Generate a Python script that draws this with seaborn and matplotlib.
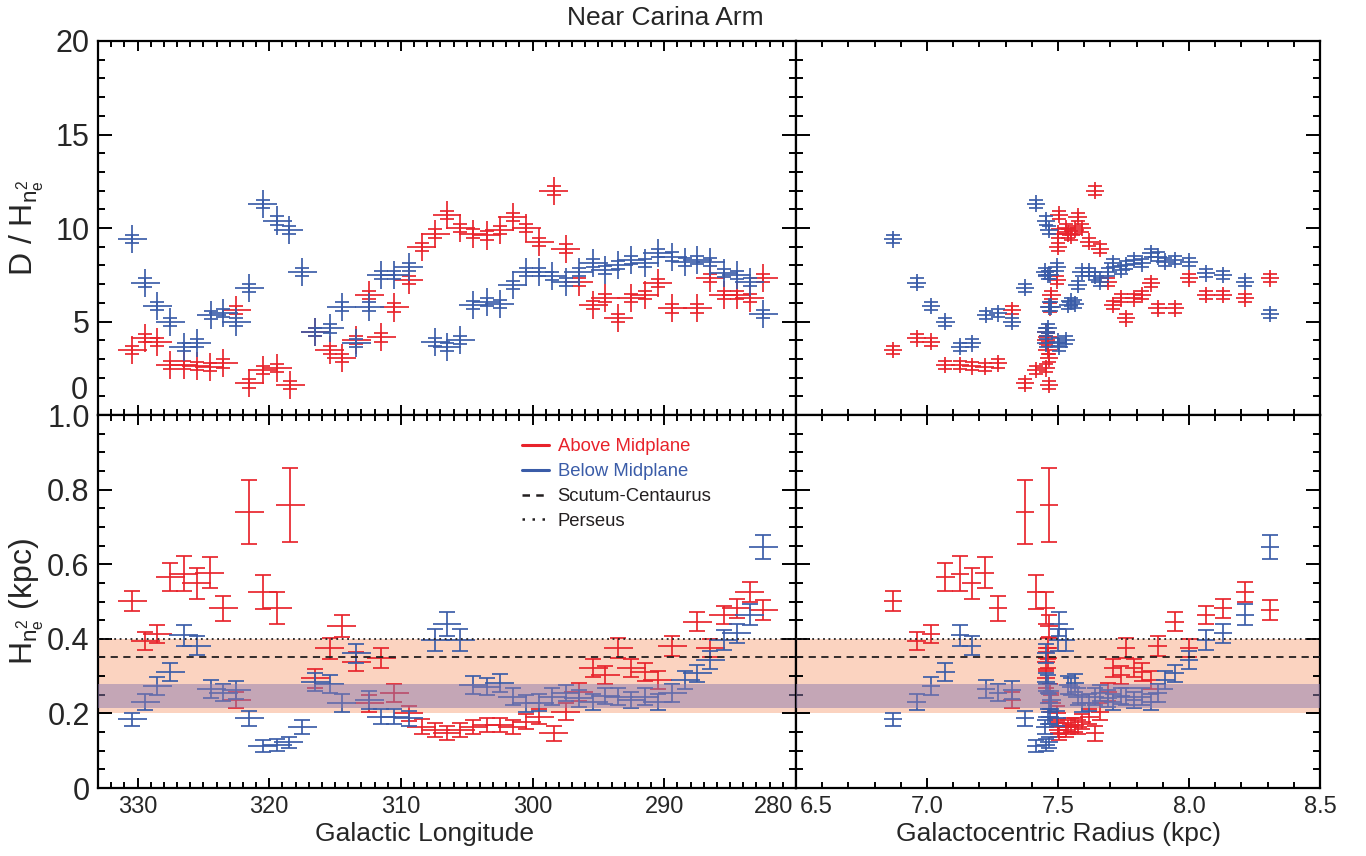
import numpy as np
import pandas as pd
import matplotlib
matplotlib.use("Agg")
import matplotlib.pyplot as plt
from matplotlib.ticker import MultipleLocator
from matplotlib.lines import Line2D
from matplotlib.transforms import ScaledTranslation
import seaborn as sns

# ---- values ----
red_lon = [330.4, 329.4, 328.5, 327.5, 326.5, 325.5, 324.5, 323.5, 322.5, 321.5, 320.5, 319.4, 318.4,
           316.5, 315.4, 314.5, 313.4, 312.4, 311.5, 310.5, 309.4, 308.4, 307.4, 306.5, 305.5, 304.5,
           303.5, 302.5, 301.5, 300.5, 299.5, 298.4, 297.5, 296.5, 295.4, 294.5, 293.5, 292.5, 291.5,
           290.5, 289.4, 287.5, 286.5, 285.5, 284.5, 283.5, 282.5]
red_rgal = [6.87, 6.96, 7.015, 7.07, 7.125, 7.17, 7.22, 7.27, 7.325, 7.375, 7.415, 7.455, 7.465,
            7.455, 7.46, 7.465, 7.455, 7.475, 7.46, 7.47, 7.495, 7.50, 7.50, 7.505, 7.53, 7.54,
            7.55, 7.565, 7.575, 7.59, 7.62, 7.64, 7.66, 7.69, 7.71, 7.74, 7.76, 7.79, 7.82,
            7.855, 7.88, 7.945, 8.0, 8.065, 8.13, 8.215, 8.31]
red_dh = [3.48, 4.10, 3.92, 2.67, 2.67, 2.60, 2.58, 2.76, 5.61, 1.69, 2.41, 2.50, 1.60,
          4.45, 3.48, 3.03, 4.00, 6.40, 4.15, 5.75, 7.20, 9.00, 9.70, 10.7, 10.0, 9.70,
          9.60, 9.90, 10.6, 10.0, 9.27, 12.0, 8.90, 7.13, 5.88, 6.24, 5.17, 6.24, 6.42,
          7.04, 5.70, 5.70, 7.31, 6.42, 6.42, 6.24, 7.31]
red_h = [0.501, 0.395, 0.412, 0.565, 0.575, 0.549, 0.577, 0.482, 0.236, 0.739, 0.525, 0.483, 0.759,
         0.294, 0.375, 0.434, 0.339, 0.227, 0.348, 0.254, 0.200, 0.164, 0.155, 0.147, 0.155, 0.164,
         0.169, 0.169, 0.164, 0.178, 0.191, 0.147, 0.205, 0.258, 0.321, 0.303, 0.375, 0.321, 0.312,
         0.290, 0.381, 0.446, 0.375, 0.464, 0.482, 0.526, 0.477]
red_h_err = [0.026, 0.024, 0.024, 0.038, 0.046, 0.042, 0.042, 0.034, 0.022, 0.086, 0.046, 0.042, 0.100,
             0.026, 0.028, 0.030, 0.026, 0.022, 0.026, 0.024, 0.020, 0.020, 0.018, 0.018, 0.018, 0.018,
             0.018, 0.018, 0.018, 0.020, 0.020, 0.020, 0.022, 0.024, 0.024, 0.024, 0.026, 0.024, 0.024,
             0.024, 0.026, 0.025, 0.024, 0.025, 0.025, 0.027, 0.026]

blue_lon = [330.4, 329.4, 328.5, 327.5, 326.5, 325.5, 324.4, 323.5, 322.5, 321.5, 320.5, 319.4, 318.5,
            317.5, 316.5, 315.4, 314.5, 313.4, 312.4, 311.5, 310.5, 309.4, 307.4, 306.5, 305.5, 304.5,
            303.5, 302.5, 301.5, 300.5, 299.5, 298.5, 297.5, 296.5, 295.4, 294.5, 293.5, 292.5, 291.5,
            290.5, 289.4, 288.4, 287.5, 286.5, 285.5, 284.5, 283.5, 282.5]
blue_rgal = [6.87, 6.96, 7.015, 7.07, 7.125, 7.17, 7.225, 7.27, 7.325, 7.375, 7.415, 7.455, 7.465,
             7.45, 7.455, 7.46, 7.465, 7.455, 7.475, 7.46, 7.47, 7.495, 7.50, 7.505, 7.53, 7.54,
             7.55, 7.565, 7.575, 7.59, 7.62, 7.64, 7.66, 7.69, 7.71, 7.74, 7.76, 7.79, 7.82,
             7.855, 7.88, 7.91, 7.945, 8.0, 8.065, 8.13, 8.215, 8.31]
blue_dh = [9.40, 7.08, 5.83, 4.99, 3.65, 3.83, 5.35, 5.44, 4.99, 6.81, 11.3, 10.4, 9.90,
           7.66, 4.45, 4.63, 5.80, 3.83, 5.80, 7.49, 7.49, 7.93, 3.92, 3.65, 4.01, 5.88,
           6.06, 5.94, 6.95, 7.66, 7.66, 7.43, 7.13, 7.66, 8.11, 7.75, 8.02, 8.29, 8.11,
           8.65, 8.47, 8.20, 8.29, 8.20, 7.58, 7.49, 7.13, 5.40]
blue_h = [0.184, 0.231, 0.274, 0.310, 0.410, 0.382, 0.265, 0.256, 0.263, 0.187, 0.113, 0.115, 0.122,
          0.164, 0.285, 0.280, 0.227, 0.361, 0.236, 0.191, 0.191, 0.187, 0.397, 0.440, 0.397, 0.276,
          0.272, 0.281, 0.245, 0.227, 0.229, 0.245, 0.254, 0.240, 0.231, 0.247, 0.245, 0.236, 0.245,
          0.231, 0.254, 0.290, 0.307, 0.343, 0.397, 0.415, 0.464, 0.647]
blue_h_err = [0.018, 0.022, 0.024, 0.024, 0.028, 0.026, 0.024, 0.022, 0.024, 0.020, 0.016, 0.016, 0.016,
              0.018, 0.024, 0.024, 0.024, 0.026, 0.024, 0.020, 0.020, 0.020, 0.030, 0.032, 0.030, 0.024,
              0.024, 0.024, 0.022, 0.022, 0.022, 0.022, 0.022, 0.022, 0.022, 0.022, 0.022, 0.022, 0.022,
              0.022, 0.024, 0.024, 0.024, 0.024, 0.026, 0.026, 0.028, 0.032]

lon_err = 1.1        # deg
rgal_err = 0.035     # kpc
dh_err_lon = 0.75    # full bar, upper left
dh_err_rgal = 0.45   # full bar, upper right
dh_err_cap = 0.22    # where the short caps sit in the upper panels

outer_band = (0.20, 0.40)
inner_band = (0.215, 0.28)
scutum_h = 0.35
perseus_h = 0.40

red = '#E8232B'
blue = '#3A5CA8'
dark = '#231F20'

red_df = pd.DataFrame({'lon': red_lon, 'rgal': red_rgal, 'dh': red_dh, 'h': red_h, 'h_err': red_h_err})
blue_df = pd.DataFrame({'lon': blue_lon, 'rgal': blue_rgal, 'dh': blue_dh, 'h': blue_h, 'h_err': blue_h_err})

sns.set_theme(style="ticks")
plt.rcParams['font.family'] = ['Liberation Sans', 'DejaVu Sans']
plt.rcParams['mathtext.fontset'] = 'custom'
plt.rcParams['mathtext.rm'] = 'Liberation Sans'
plt.rcParams['mathtext.it'] = 'Liberation Sans'
plt.rcParams['axes.linewidth'] = 1.6
plt.rcParams['axes.edgecolor'] = 'black'

fig = plt.figure(figsize=(13.66, 8.56), dpi=100)
W, H = 1366, 856
lx, lw = 98 / W, 698 / W
rx, rw = 796 / W, 524 / W
tb, th = 1 - 415 / H, 374 / H
bb, bh = 1 - 788 / H, 373 / H
ax_tl = fig.add_axes([lx, tb, lw, th])
ax_tr = fig.add_axes([rx, tb, rw, th])
ax_bl = fig.add_axes([lx, bb, lw, bh])
ax_br = fig.add_axes([rx, bb, rw, bh])

LW = 1.4
ALPHA = 0.88


def draw_top(ax, df, xcol, xerr, yerr, color):
    # long vertical bar without caps, short capped bar, horizontal bar
    ax.errorbar(df[xcol], df['dh'], yerr=yerr, fmt='none', ecolor=color, elinewidth=LW,
                capsize=0, alpha=ALPHA, zorder=3)
    ax.errorbar(df[xcol], df['dh'], yerr=dh_err_cap, fmt='none', ecolor=color, elinewidth=LW,
                capsize=4.8, capthick=LW, alpha=ALPHA, zorder=3)
    ax.errorbar(df[xcol], df['dh'], xerr=xerr, fmt='none', ecolor=color, elinewidth=LW,
                capsize=0, alpha=ALPHA, zorder=3)


def draw_bottom(ax, df, xcol, xerr, color):
    ax.errorbar(df[xcol], df['h'], yerr=df['h_err'], fmt='none', ecolor=color, elinewidth=LW,
                capsize=5.5, capthick=LW, alpha=ALPHA, zorder=3)
    ax.errorbar(df[xcol], df['h'], xerr=xerr, fmt='none', ecolor=color, elinewidth=LW,
                capsize=0, alpha=ALPHA, zorder=3)


for df, c in [(red_df, red), (blue_df, blue)]:
    draw_top(ax_tl, df, 'lon', lon_err, dh_err_lon, c)
    draw_top(ax_tr, df, 'rgal', rgal_err, dh_err_rgal, c)
    draw_bottom(ax_bl, df, 'lon', lon_err, c)
    draw_bottom(ax_br, df, 'rgal', rgal_err, c)

# spiral arm scale-height bands
for ax in (ax_bl, ax_br):
    ax.axhspan(*outer_band, color='#FBD3C0', lw=0, zorder=0)
    ax.axhspan(*inner_band, color='#8E7BAE', alpha=0.5, lw=0, zorder=4)
    ax.axhline(scutum_h, color=dark, ls=(0, (4, 3)), lw=1.3, zorder=5)
    ax.axhline(perseus_h, color=dark, ls=(0, (1, 2)), lw=1.3, zorder=5)

for ax in (ax_tl, ax_bl):
    ax.set_xlim(333, 280)
    ax.set_xticks([330, 320, 310, 300, 290, 280])
    ax.xaxis.set_minor_locator(MultipleLocator(1))
for ax in (ax_tr, ax_br):
    ax.set_xlim(6.5, 8.5)
    ax.set_xticks([6.5, 7.0, 7.5, 8.0, 8.5])
    ax.xaxis.set_minor_locator(MultipleLocator(0.1))
for ax in (ax_tl, ax_tr):
    ax.set_ylim(0, 20)
    ax.set_yticks([0, 5, 10, 15, 20])
    ax.yaxis.set_minor_locator(MultipleLocator(1))
for ax in (ax_bl, ax_br):
    ax.set_ylim(0, 1.0)
    ax.set_yticks([0, 0.2, 0.4, 0.6, 0.8, 1.0])
    ax.set_yticklabels(['0', '0.2', '0.4', '0.6', '0.8', '1.0'])
    ax.yaxis.set_minor_locator(MultipleLocator(0.05))

for ax in (ax_tl, ax_tr, ax_bl, ax_br):
    ax.tick_params(which='both', direction='in', top=True, right=True, bottom=True, left=True,
                   color='black', width=1.4)
    ax.tick_params(axis='y', which='major', length=10, labelsize=22, pad=6)
    ax.tick_params(axis='y', which='minor', length=5)
    ax.tick_params(axis='x', which='major', length=7, labelsize=17, pad=6)
    ax.tick_params(axis='x', which='minor', length=4)
    for s in ax.spines.values():
        s.set_linewidth(1.6)
        s.set_color('black')

ax_tl.tick_params(labelbottom=False)
ax_tr.tick_params(labelbottom=False, labelleft=False)
ax_br.tick_params(labelleft=False)

# the "0" of the upper panel sits a little above its tick in the original
ax_tl.set_yticklabels(['', '5', '10', '15', '20'])
ax_tl.text(-0.014, 1.3, '0', transform=ax_tl.get_yaxis_transform(), ha='right', va='center',
           fontsize=22)

ax_tl.set_ylabel(r'D / H$_{n_e^{2}}$', fontsize=23)
ax_bl.set_ylabel(r'H$_{n_e^{2}}$ (kpc)', fontsize=23)
ax_tl.yaxis.set_label_coords(-0.075, 0.5)
ax_bl.yaxis.set_label_coords(-0.075, 0.5)

ax_bl.set_xlabel('Galactic Longitude', fontsize=19)
ax_br.set_xlabel('Galactocentric Radius (kpc)', fontsize=19)
ax_bl.xaxis.set_label_coords(0.468, -0.092)
ax_br.xaxis.set_label_coords(0.5, -0.092)

fig.text(665 / W, 1 - 18 / H, 'Near Carina Arm', ha='center', va='center', fontsize=19)

handles = [Line2D([], [], color=red, lw=2.2),
           Line2D([], [], color=blue, lw=2.2),
           Line2D([], [], color=dark, lw=1.8, ls=(0, (3, 2.5))),
           Line2D([], [], color=dark, lw=1.8, ls=(0, (1, 3)))]
labels = ['Above Midplane', 'Below Midplane', 'Scutum-Centaurus', 'Perseus']
ax_bl.legend(handles, labels, loc='upper left', bbox_to_anchor=(0.607, 0.937), frameon=False,
             fontsize=13.3, handlelength=1.5, handletextpad=0.45, labelspacing=0.42,
             borderaxespad=0, borderpad=0, labelcolor=[red, blue, dark, dark])

# keep the shared-corner labels apart: 280 to the left, 6.5 to the right
fig.canvas.draw()
for lab in ax_bl.get_xticklabels():
    if lab.get_text() == '280':
        lab.set_horizontalalignment('right')
        lab.set_transform(lab.get_transform() + ScaledTranslation(-0.03, 0, fig.dpi_scale_trans))
for lab in ax_br.get_xticklabels():
    if lab.get_text() == '6.5':
        lab.set_horizontalalignment('left')
        lab.set_transform(lab.get_transform() + ScaledTranslation(0.04, 0, fig.dpi_scale_trans))

fig.savefig('out.png', dpi=100)
